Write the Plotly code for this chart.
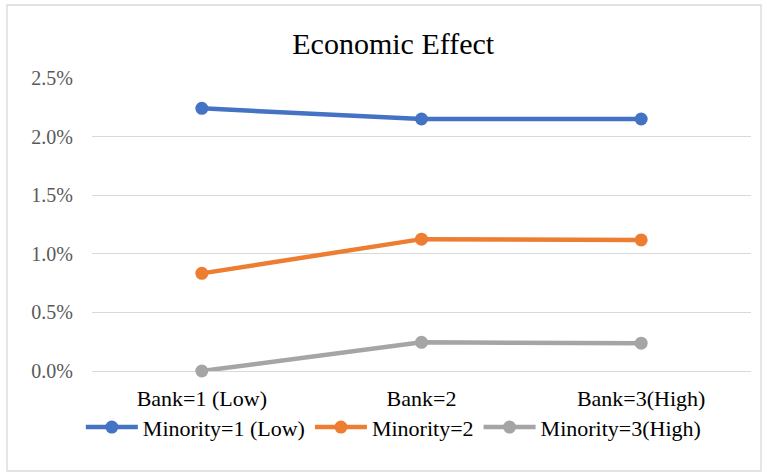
import plotly.graph_objects as go

# Categories and series (economic effect, as fractions)
categories = ["Bank=1 (Low)", "Bank=2", "Bank=3(High)"]
series_names = ["Minority=1 (Low)", "Minority=2", "Minority=3(High)"]
minority_low = [0.02241, 0.02150, 0.02150]
minority_mid = [0.00833, 0.01125, 0.01118]
minority_high = [0.0, 0.00245, 0.00237]
y_ticks = [0.0, 0.005, 0.010, 0.015, 0.020, 0.025]

colors = ["#4472C4", "#ED7D31", "#A5A5A5"]
serif = "Times New Roman, Liberation Serif, DejaVu Serif, serif"

fig = go.Figure()
for name, vals, col in zip(series_names, [minority_low, minority_mid, minority_high], colors):
    fig.add_trace(go.Scatter(
        x=categories, y=vals, name=name, mode="lines+markers",
        line=dict(color=col, width=4.5),
        marker=dict(color=col, size=13),
        cliponaxis=False,
    ))

fig.update_layout(
    width=768, height=473,
    margin=dict(l=92, r=17, t=78, b=102),
    paper_bgcolor="white", plot_bgcolor="white",
    font=dict(family=serif, size=22, color="#000000"),
    title=dict(text="Economic Effect", x=0.512, xref="container", xanchor="center",
               y=1 - 43 / 473, yref="container", yanchor="middle",
               font=dict(family=serif, size=30, color="#000000")),
    showlegend=True,
    legend=dict(orientation="h", x=0.458, xanchor="center", y=-0.192, yanchor="middle",
                font=dict(family=serif, size=22, color="#000000"),
                bgcolor="rgba(0,0,0,0)", itemwidth=52),
    xaxis=dict(type="category", range=[-0.5, 2.5], showgrid=False, showline=False,
               zeroline=False, ticks="", ticklabelstandoff=12,
               tickfont=dict(family=serif, size=22, color="#000000")),
    yaxis=dict(range=[0, 0.025], tickvals=y_ticks, tickformat=".1%",
               showgrid=True, gridcolor="#D9D9D9", gridwidth=1.3,
               zeroline=True, zerolinecolor="#D9D9D9", zerolinewidth=1.3,
               showline=False, ticks="", ticklabelstandoff=18,
               tickfont=dict(family=serif, size=20, color="#595959")),
    shapes=[dict(type="rect", xref="paper", yref="paper",
                 x0=(7 - 92) / 659, x1=(761 - 92) / 659,
                 y0=(371 - 471) / 293, y1=(371 - 5) / 293,
                 line=dict(color="#D9D9D9", width=1.3), fillcolor="rgba(0,0,0,0)",
                 layer="below")],
)

fig.write_html("out.html")
